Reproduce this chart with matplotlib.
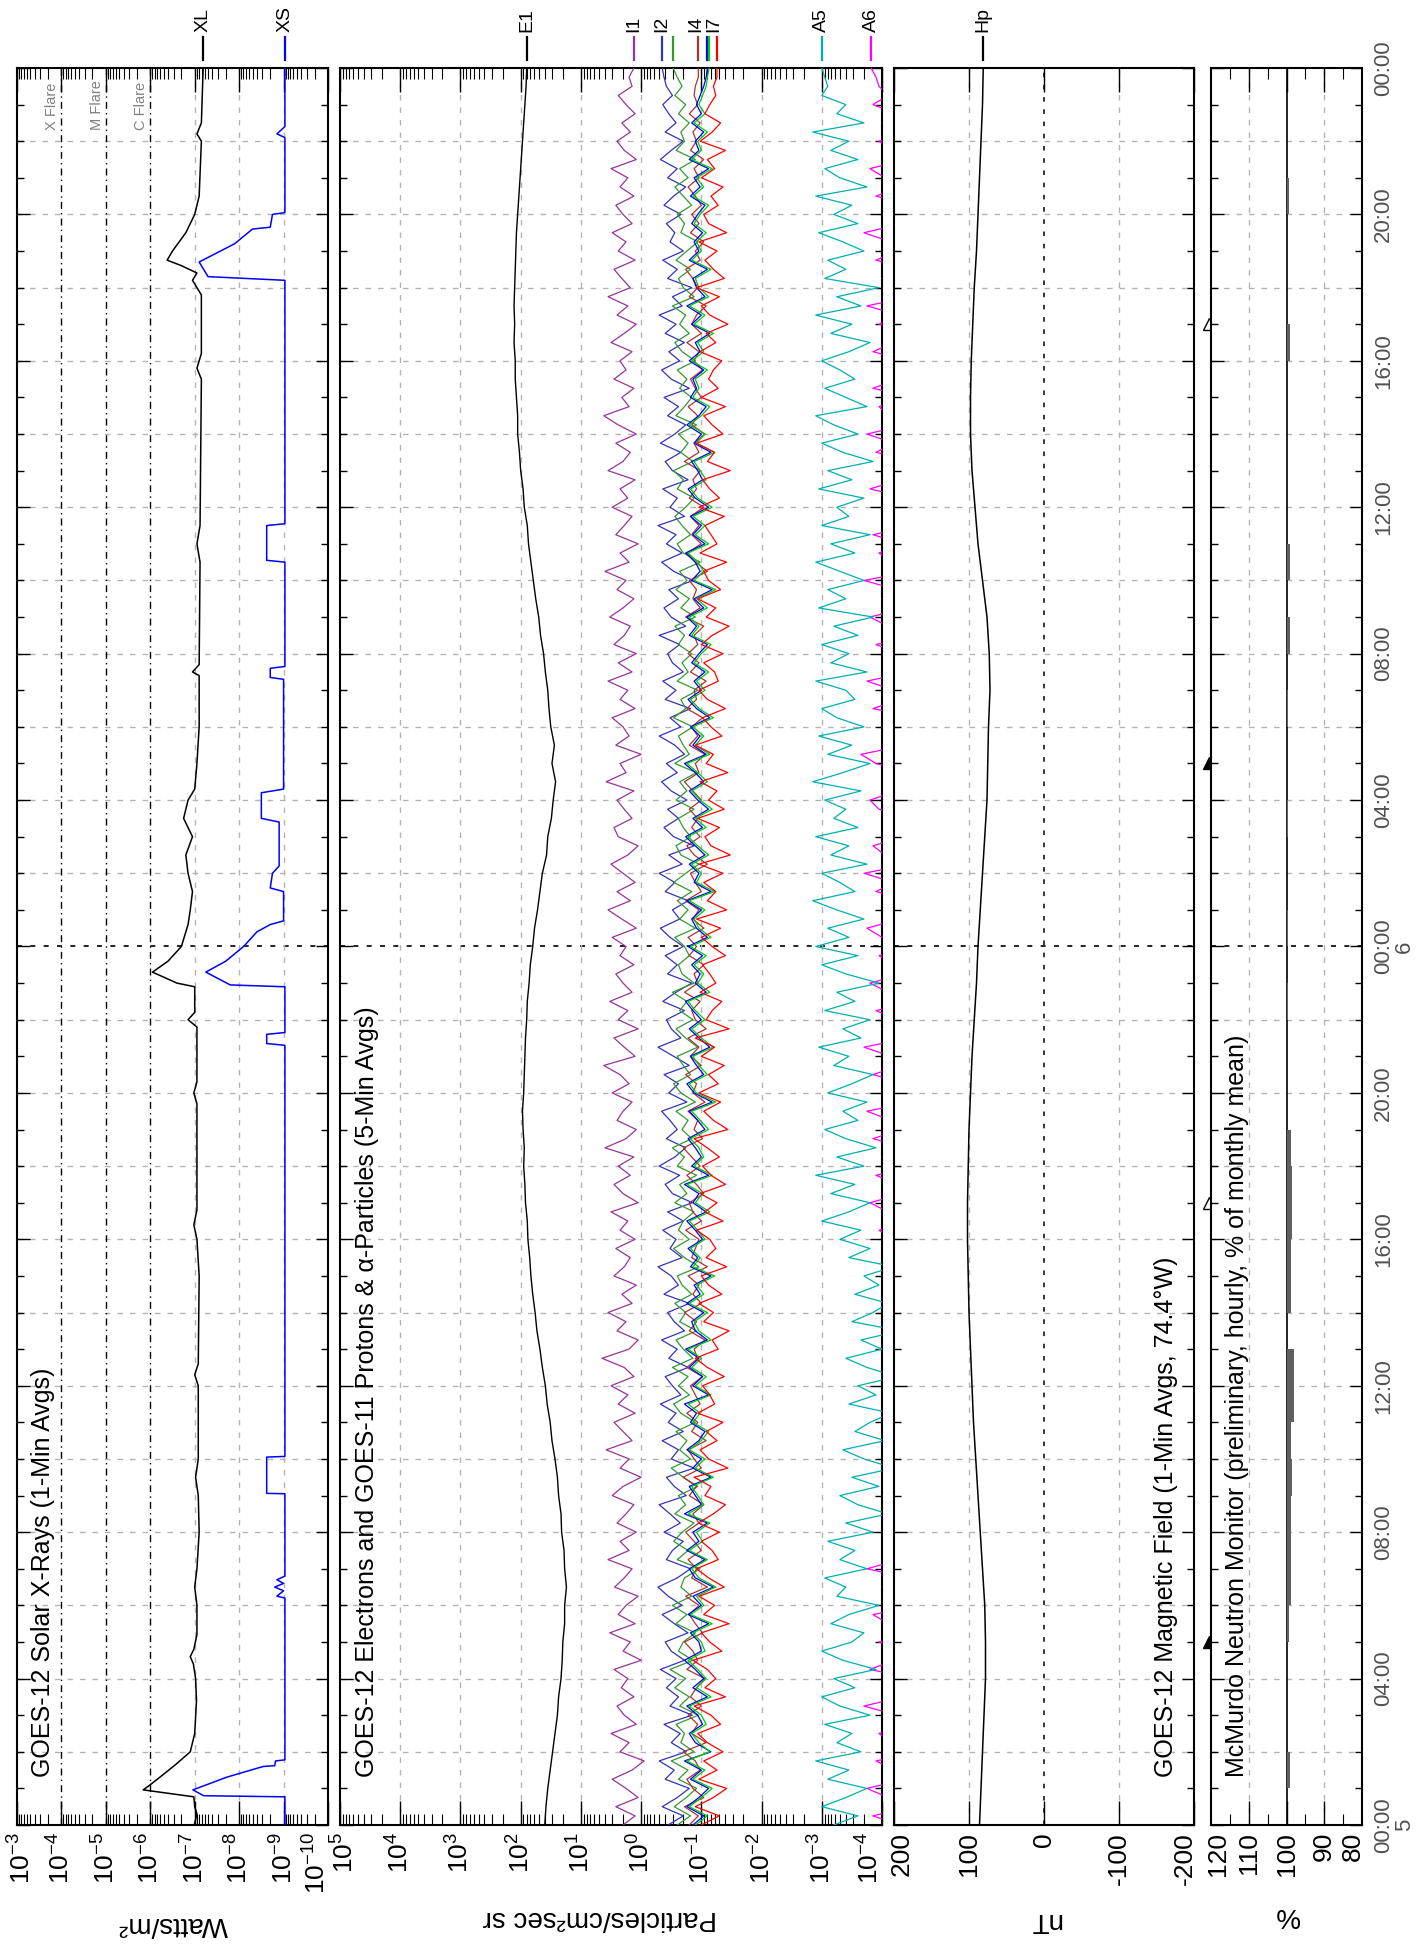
import numpy as np
import matplotlib
matplotlib.use("Agg")
import matplotlib.pyplot as plt
import matplotlib.transforms as mtransforms

plt.rcParams['font.family'] = ['Liberation Sans', 'DejaVu Sans']
plt.rcParams['mathtext.fontset'] = 'custom'
plt.rcParams['mathtext.rm'] = 'Liberation Sans'
plt.rcParams['mathtext.it'] = 'Liberation Sans:italic'
plt.rcParams['mathtext.bf'] = 'Liberation Sans:bold'
plt.rcParams['mathtext.default'] = 'regular'

# ---------------- data (hours since day 5 00:00 UT, log10 values) ----------------
xl_hours = [0, 0.3, 0.5, 0.77, 0.85, 0.96, 1.1, 1.31, 1.64, 2.0, 2.5, 3.4, 4.0, 4.4, 4.6, 4.8,
            5.2, 6.0, 6.5, 7.0, 8.0, 9.0, 9.5, 10.0, 12.0, 12.3, 12.6, 15.0, 16.0, 16.4, 16.8,
            19.7, 20.0, 20.3, 21.8, 22.0, 22.2, 22.9, 23.0, 23.3, 23.6, 24.0, 24.6, 25.0, 25.5,
            26.0, 26.5, 27.0, 27.5, 28.0, 28.3, 29.0, 30.0, 31.4, 31.5, 31.7, 34.5, 35.0, 35.5,
            39.5, 39.8, 40.2, 41.8, 42.2, 42.4, 42.6, 42.75, 43.0, 43.5, 44.0, 44.5, 46.0, 46.2,
            46.5, 48.0]
xl_log = [-6.99, -7.05, -7.0, -6.98, -6.5, -5.84, -6.0, -6.22, -6.56, -6.9, -7.0, -7.04, -7.02,
          -6.97, -6.9, -6.98, -7.05, -7.05, -7.0, -7.05, -7.1, -7.08, -7.02, -7.08, -7.08, -7.0,
          -7.08, -7.1, -7.05, -6.98, -7.05, -7.05, -6.98, -7.05, -7.05, -6.85, -7.0, -7.0, -6.6,
          -6.05, -6.4, -6.7, -6.85, -6.9, -6.95, -6.85, -6.8, -6.95, -6.75, -6.85, -7.0, -7.05,
          -7.1, -7.1, -6.95, -7.1, -7.12, -7.05, -7.12, -7.15, -7.05, -7.15, -7.15, -6.95, -7.05,
          -6.7, -6.38, -6.5, -6.8, -7.0, -7.1, -7.15, -7.05, -7.15, -7.19]

xs_hours = [0, 0.77, 0.8, 0.96, 1.31, 1.56, 1.6, 1.62, 1.75, 1.78, 6.2, 6.25, 6.4, 6.5, 6.6,
            6.7, 6.8, 9.05, 9.06, 10.05, 10.07, 21.3, 21.35, 21.6, 21.65, 22.9, 22.95, 23.3,
            23.6, 24.0, 24.4, 24.6, 24.7, 25.5, 25.6, 26.0, 26.2, 27.4, 27.5, 28.2, 28.3,
            31.3, 31.35, 31.6, 31.65, 34.5, 34.55, 35.5, 35.55, 42.2, 42.3, 42.7, 43.2, 43.6,
            43.65, 44.0, 44.05, 46.1, 46.2, 46.4, 48.0]
xs_log = [-9.03, -9.03, -7.2, -6.96, -7.73, -8.43, -8.55, -8.8, -8.82, -9.03, -9.03, -8.85,
          -9.0, -8.8, -9.0, -8.85, -9.03, -9.03, -8.62, -8.62, -9.03, -9.03, -8.62, -8.62,
          -9.03, -9.03, -7.8, -7.25, -7.7, -8.1, -8.4, -8.7, -9.0, -9.0, -8.7, -8.75, -8.9,
          -8.9, -8.5, -8.5, -9.0, -9.0, -8.7, -8.7, -9.03, -9.03, -8.62, -8.62, -9.03, -9.03,
          -7.3, -7.1, -7.9, -8.3, -8.7, -8.75, -9.03, -9.03, -8.85, -9.03, -9.03]

# 30-minute electron values (log10), 00:00 day 5 .. 00:00 day 7
e1_log = [1.60, 1.58, 1.55, 1.51, 1.47, 1.43, 1.39, 1.37, 1.33, 1.31,
          1.30, 1.27, 1.27, 1.24, 1.27, 1.28, 1.32, 1.33, 1.37, 1.39,
          1.43, 1.48, 1.51, 1.56, 1.59, 1.64, 1.68, 1.73, 1.76, 1.80,
          1.83, 1.85, 1.88, 1.89, 1.92, 1.93, 1.95, 1.94, 1.96, 1.97,
          1.95, 1.94, 1.93, 1.92, 1.90, 1.89, 1.86, 1.84, 1.80, 1.77,
          1.72, 1.68, 1.64, 1.57, 1.55, 1.49, 1.46, 1.42, 1.48, 1.44,
          1.50, 1.53, 1.55, 1.59, 1.62, 1.67, 1.70, 1.75, 1.79, 1.83,
          1.87, 1.89, 1.94, 1.96, 2.00, 2.02, 2.05, 2.05, 2.07, 2.09,
          2.09, 2.11, 2.10, 2.11, 2.10, 2.09, 2.08, 2.07, 2.05, 2.03,
          2.01, 1.99, 1.97, 1.95, 1.93, 1.91, 1.90]

# 15-minute proton / alpha values in hundredths of a decade (log10 * 100)
i1_cdec = [30, 10, 42, 5, 25, 48, 15, -5, 35, 20, 50, 8, 28, 40, 12, 33,
           22, 45, 0, 30, 18, 52, 10, 38, 25, 5, 44, 28, 15, 55, 20, 35,
           8, 40, 25, 12, 48, 30, 0, 35, 20, 58, 15, 30, 45, 10, 38, 22,
           50, 12, 28, 65, 20, 5, 40, 25, 55, 15, 32, 8, 45, 28, 18, 42,
           10, 35, 22, 50, 5, 30, 45, 18, 38, 12, 60, 25, 8, 40, 30, 15,
           48, 20, 35, 62, 10, 28, 45, 5, 38, 22, 52, 15, 30, 42, 12, 35,
           25, 48, 8, 32, 55, 18, 40, 10, 30, 50, 22, 5, 38, 45, 15, 28,
           40, 12, 58, 25, 35, 0, 42, 20, 30, 48, 10, 35, 22, 55, 15, 38,
           8, 45, 28, 18, 52, 30, 12, 40, 25, 60, 20, 35, 5, 42, 28, 15,
           48, 22, 35, 10, 55, 30, 18, 42, 8, 38, 62, 20, 32, 12, 45, 25,
           35, 15, 50, 28, 8, 40, 22, 55, 18, 32, 45, 10, 38, 25, 48, 15,
           30, 42, 12, 35, 22, 50, 8, 28, 40, 18, 32, 10, 25, 38, 15, 20,
           12]
i2_cdec = [-45, -70, -35, -60, -80, -40, -55, -30, -75, -50, -65, -38, -85, -48, -62, -42,
           -58, -32, -72, -50, -40, -78, -55, -35, -68, -45, -28, -60, -82, -42, -52, -70,
           -38, -65, -48, -30, -75, -55, -42, -88, -50, -62, -35, -70, -45, -58, -32, -66,
           -52, -40, -78, -46, -60, -34, -72, -55, -44, -80, -38, -62, -50, -28, -68, -48,
           -58, -36, -70, -44, -85, -52, -40, -64, -30, -56, -74, -42, -60, -48, -34, -76,
           -46, -62, -38, -80, -54, -28, -66, -50, -42, -72, -36, -58, -84, -44, -60, -40,
           -70, -48, -32, -64, -52, -78, -40, -56, -30, -68, -46, -88, -54, -38, -62, -44,
           -76, -50, -34, -60, -42, -72, -56, -30, -66, -48, -82, -40, -58, -36, -70, -52,
           -44, -64, -30, -74, -50, -38, -62, -46, -86, -54, -34, -68, -42, -58, -28, -72,
           -48, -60, -36, -78, -52, -40, -66, -32, -56, -74, -44, -62, -38, -80, -50, -34,
           -64, -46, -72, -40, -58, -30, -68, -52, -84, -44, -60, -36, -70, -48, -56, -42,
           -66, -38, -54, -74, -44, -60, -32, -50, -70, -40, -58, -46, -36, -52, -42, -38,
           -35]
i3_cdec = [-60, -82, -55, -75, -92, -62, -78, -50, -88, -66, -72, -58, -95, -64, -80, -56,
           -74, -48, -86, -62, -70, -90, -58, -76, -52, -84, -66, -72, -98, -60, -78, -54,
           -68, -88, -56, -74, -62, -94, -70, -50, -82, -64, -76, -58, -90, -66, -54, -80,
           -62, -78, -52, -86, -70, -58, -92, -64, -74, -56, -84, -68, -60, -96, -72, -54,
           -80, -62, -70, -88, -56, -76, -64, -92, -60, -72, -52, -84, -68, -78, -58, -90,
           -66, -54, -82, -70, -60, -94, -74, -58, -86, -64, -76, -52, -88, -68, -62, -80,
           -72, -56, -90, -64, -78, -60, -84, -54, -74, -96, -66, -58, -82, -70, -62, -88,
           -58, -76, -64, -92, -56, -80, -70, -62, -86, -54, -74, -66, -94, -60, -78, -68,
           -84, -62, -72, -56, -90, -66, -80, -58, -76, -64, -98, -70, -60, -82, -68, -56,
           -74, -88, -60, -70, -54, -86, -66, -78, -62, -92, -58, -72, -84, -64, -76, -60,
           -90, -68, -56, -80, -64, -74, -52, -88, -70, -62, -82, -58, -76, -94, -66, -72,
           -60, -84, -70, -56, -78, -64, -90, -58, -72, -66, -80, -62, -74, -56, -68, -60,
           -53]
i4_cdec = [-80, -95, -72, -104, -86, -76, -98, -90, -70, -108, -84, -94, -78, -100, -82, -92,
           -106, -76, -94, -86, -72, -102, -90, -80, -96, -74, -110, -84, -92, -78, -100, -88,
           -74, -96, -86, -104, -80, -92, -70, -100, -88, -78, -108, -84, -94, -76, -98, -90,
           -82, -102, -76, -94, -88, -106, -80, -92, -72, -100, -86, -96, -78, -110, -84, -90,
           -96, -74, -100, -86, -80, -104, -92, -76, -98, -84, -70, -102, -88, -94, -78, -106,
           -86, -92, -74, -100, -82, -96, -78, -108, -90, -84, -98, -72, -94, -88, -104, -80,
           -92, -78, -104, -86, -96, -74, -100, -90, -82, -110, -88, -76, -98, -84, -94, -80,
           -100, -86, -72, -96, -90, -106, -80, -94, -84, -102, -76, -92, -88, -108, -82, -96,
           -78, -94, -88, -104, -74, -98, -86, -92, -80, -110, -90, -76, -100, -84, -96, -82,
           -104, -80, -92, -86, -98, -72, -96, -88, -106, -84, -94, -78, -100, -90, -82, -102,
           -88, -96, -76, -100, -84, -92, -108, -80, -94, -86, -74, -98, -90, -104, -82, -96,
           -84, -100, -90, -78, -96, -88, -104, -82, -92, -86, -98, -80, -94, -88, -90, -95,
           -95]
i5_cdec = [-86, -104, -76, -96, -112, -82, -100, -72, -116, -90, -80, -102, -94, -76, -110, -86,
           -104, -90, -72, -100, -96, -82, -112, -78, -100, -86, -120, -90, -80, -106, -76, -96,
           -86, -110, -72, -100, -90, -80, -116, -86, -100, -76, -96, -106, -82, -92, -72, -112,
           -86, -102, -80, -96, -74, -110, -90, -84, -104, -76, -98, -88, -116, -82, -94, -78,
           -102, -90, -76, -108, -86, -96, -72, -112, -84, -100, -90, -78, -106, -94, -80, -118,
           -88, -76, -104, -92, -82, -114, -96, -80, -100, -86, -74, -108, -90, -98, -84, -102,
           -78, -110, -92, -84, -100, -76, -116, -88, -96, -80, -106, -90, -74, -102, -86, -112,
           -94, -80, -104, -90, -72, -108, -86, -98, -82, -114, -92, -78, -100, -88, -106, -84,
           -96, -110, -80, -92, -76, -104, -88, -118, -84, -98, -90, -74, -106, -86, -100, -82,
           -112, -90, -78, -102, -94, -84, -116, -88, -100, -76, -96, -108, -82, -92, -86, -104,
           -80, -98, -90, -114, -84, -100, -76, -106, -92, -86, -110, -80, -96, -88, -102, -84,
           -94, -106, -82, -98, -88, -112, -80, -96, -90, -104, -84, -100, -92, -98, -104, -108,
           -110]
i6_cdec = [-90, -110, -80, -100, -118, -86, -106, -76, -114, -96, -84, -108, -100, -80, -116, -92,
           -108, -94, -78, -106, -100, -86, -118, -82, -104, -92, -124, -96, -84, -110, -80, -102,
           -92, -114, -78, -104, -94, -84, -120, -90, -106, -80, -100, -112, -86, -98, -78, -116,
           -90, -108, -84, -100, -78, -116, -96, -88, -110, -80, -104, -92, -122, -86, -98, -82,
           -106, -94, -80, -114, -90, -102, -76, -118, -88, -104, -96, -82, -112, -98, -84, -124,
           -92, -80, -110, -96, -86, -120, -100, -84, -106, -90, -78, -114, -94, -104, -88, -108,
           -82, -116, -96, -88, -106, -80, -122, -92, -100, -84, -112, -94, -78, -108, -90, -118,
           -98, -84, -110, -94, -76, -114, -90, -104, -86, -120, -96, -82, -106, -92, -112, -88,
           -100, -116, -84, -96, -80, -110, -92, -124, -88, -104, -94, -78, -112, -90, -106, -86,
           -118, -94, -82, -108, -98, -88, -122, -92, -106, -80, -100, -114, -86, -96, -90, -110,
           -84, -104, -94, -120, -88, -106, -80, -112, -96, -90, -116, -84, -100, -92, -108, -88,
           -98, -112, -86, -104, -92, -118, -84, -100, -94, -110, -88, -106, -96, -102, -108, -110,
           -113]
i7_cdec = [-100, -130, -90, -120, -142, -96, -126, -104, -136, -110, -94, -132, -116, -88, -140, -106,
           -124, -110, -86, -134, -114, -100, -146, -104, -122, -96, -138, -112, -92, -128, -118, -100,
           -130, -95, -120, -140, -106, -116, -88, -144, -112, -98, -126, -108, -136, -94, -122, -114,
           -102, -138, -110, -90, -128, -118, -146, -104, -120, -96, -134, -112, -100, -142, -108, -124,
           -114, -92, -136, -106, -126, -98, -140, -116, -102, -130, -110, -88, -144, -120, -104, -132,
           -96, -128, -112, -138, -100, -122, -90, -146, -108, -118, -134, -98, -124, -114, -102, -140,
           -118, -100, -132, -92, -142, -110, -124, -104, -136, -96, -148, -116, -106, -130, -94, -138,
           -112, -126, -98, -144, -108, -120, -90, -134, -116, -102, -140, -110, -96, -128, -122, -104,
           -136, -100, -118, -146, -108, -124, -94, -132, -112, -104, -142, -98, -126, -116, -106, -138,
           -96, -130, -114, -102, -148, -110, -122, -92, -136, -118, -104, -140, -100, -128, -112, -120,
           -134, -98, -124, -108, -144, -114, -100, -130, -92, -138, -120, -106, -126, -96, -142, -112,
           -104, -128, -116, -136, -100, -122, -110, -140, -98, -118, -132, -106, -114, -124, -120, -126,
           -126]
a5_cdec = [-320, -360, -300, -340, -375, -310, -345, -290, -365, -325, -350, -305, -380, -330, -300, -355,
           -320, -390, -335, -300, -350, -370, -315, -345, -395, -325, -340, -305, -375, -330, -355, -310,
           -385, -340, -410, -360, -330, -395, -350, -420, -370, -335, -405, -355, -380, -415, -345, -390,
           -360, -425, -375, -340, -400, -365, -430, -350, -385, -410, -355, -395, -370, -420, -345, -380,
           -330, -365, -300, -345, -380, -315, -355, -290, -370, -325, -390, -340, -305, -360, -335, -375,
           -310, -350, -385, -320, -345, -295, -365, -335, -380, -305, -355, -325, -395, -340, -300, -360,
           -290, -345, -310, -370, -325, -285, -355, -330, -300, -375, -315, -345, -290, -360, -320, -340,
           -305, -365, -285, -335, -380, -310, -350, -295, -370, -325, -300, -355, -340, -290, -375, -315,
           -345, -300, -360, -320, -385, -295, -340, -310, -370, -330, -290, -355, -315, -380, -300, -345,
           -325, -370, -295, -350, -310, -385, -335, -300, -360, -320, -290, -375, -340, -305, -355, -330,
           -300, -345, -380, -315, -350, -290, -365, -325, -395, -305, -340, -310, -370, -335, -295, -360,
           -320, -350, -290, -375, -330, -305, -360, -315, -345, -285, -370, -325, -340, -300, -310, -305,
           -300]
a6_cdec = [-430, -385, -450, -410, -375, -440, -420, -390, -460, -415, -395, -445, -425, -370, -435, -405,
           -450, -380, -420, -440, -395, -455, -410, -385, -465, -425, -400, -445, -375, -430, -415, -460,
           -440, -470, -420, -455, -435, -480, -445, -425, -465, -450, -430, -475, -440, -460, -420, -450,
           -455, -430, -470, -445, -480, -420, -460, -440, -475, -435, -465, -450, -425, -470, -445, -460,
           -420, -395, -445, -410, -380, -435, -425, -390, -455, -400, -440, -385, -430, -415, -375, -450,
           -405, -440, -385, -430, -415, -370, -445, -400, -425, -390, -460, -410, -380, -435, -420, -395,
           -440, -400, -375, -430, -415, -455, -390, -420, -370, -445, -405, -385, -435, -410, -460, -395,
           -380, -425, -410, -450, -390, -365, -440, -415, -400, -455, -385, -430, -420, -375, -445, -405,
           -430, -390, -460, -410, -380, -440, -400, -425, -370, -450, -415, -395, -435, -385, -455, -420,
           -400, -445, -380, -430, -415, -465, -390, -420, -375, -440, -410, -395, -450, -385, -425, -405,
           -440, -385, -420, -460, -395, -430, -375, -445, -410, -400, -455, -390, -425, -415, -370, -435,
           -410, -450, -390, -430, -405, -380, -440, -420, -395, -460, -400, -425, -385, -410, -395, -390,
           -382]

# hourly Hp (nT)
hp_nt = [86, 84, 82, 80, 78, 78, 79, 82, 85, 88, 91, 94, 96, 98, 100, 101, 102, 102, 101,
         100, 98, 96, 93, 90, 88, 85, 82, 79, 76, 75, 74, 72, 73, 76, 82, 88, 92, 96, 98,
         98, 97, 95, 93, 90, 88, 86, 84, 82, 81]

# hourly neutron monitor (% of monthly mean), hour h covers h..h+1
neutron_pct = [100, 99.0, 100, 100, 100, 99.4, 98.9, 98.9, 98.9, 98.5, 98.7, 98.0, 98.0, 100,
               98.8, 98.8, 98.5, 98.5, 98.8, 100, 100, 100, 99.5, 100, 99.5, 100, 100, 99.5,
               100, 100, 99.5, 100, 99.0, 100, 99.0, 100, 100, 100, 100, 100, 99.0, 100, 100,
               100, 99.4, 100, 100, 100]

time_labels = ["00:00\n5", "04:00", "08:00", "12:00", "16:00", "20:00", "00:00\n6",
               "04:00", "08:00", "12:00", "16:00", "20:00", "00:00"]
noon_marks = [5, 17, 29, 41]
noon_filled = [True, False, True, False]

# ---------------- layout ----------------
W, H = 1416, 1944
TOP, BOT = 68, 1825
AX_H = BOT - TOP

fig = plt.figure(figsize=(W / 100, H / 100), dpi=100)


def box(x0, x1):
    return [x0 / W, 1 - BOT / H, (x1 - x0) / W, AX_H / H]


ax_x = fig.add_axes(box(17, 328))
ax_p = fig.add_axes(box(340, 882))
ax_m = fig.add_axes(box(894, 1194))
ax_n = fig.add_axes(box(1211, 1362))
axes = [ax_x, ax_p, ax_m, ax_n]

GRAY = '#b4b4b4'
DASH = (0, (4, 5))

for ax in axes:
    ax.set_ylim(0, 48)
    ax.set_yticks(np.arange(0, 49, 4))
    ax.set_yticks(np.arange(0, 49, 1), minor=True)
    ax.tick_params(axis='y', which='both', direction='in', left=True, right=True,
                   labelleft=False, labelright=False)
    ax.tick_params(axis='y', which='major', length=9, width=1)
    ax.tick_params(axis='y', which='minor', length=5, width=1)
    ax.tick_params(axis='x', which='both', direction='in', top=True, bottom=True,
                   labelbottom=False, labeltop=False)
    ax.tick_params(axis='x', which='major', length=17, width=1)
    ax.tick_params(axis='x', which='minor', length=8, width=0.8)
    for s in ax.spines.values():
        s.set_linewidth(1.5)
    for h in range(2, 48, 2):
        if h == 24:
            ax.axhline(h, color='black', ls=(0, (3, 5)), lw=1.2, zorder=1)
        else:
            ax.axhline(h, color=GRAY, ls=DASH, lw=1, zorder=1)


def log_axis(ax, hi, lo):
    ax.set_xscale('log')
    ax.set_xlim(10.0 ** hi, 10.0 ** lo)
    ax.xaxis.set_major_locator(matplotlib.ticker.LogLocator(base=10, numticks=30))
    ax.xaxis.set_minor_locator(matplotlib.ticker.LogLocator(base=10, subs=np.arange(2, 10),
                                                            numticks=300))
    ax.xaxis.set_minor_formatter(matplotlib.ticker.NullFormatter())


def value_labels(ax, vals, labels, shifts):
    trans = mtransforms.blended_transform_factory(ax.transData, ax.transAxes)
    for v, lab, s in zip(vals, labels, shifts):
        t = trans + mtransforms.ScaledTranslation(s / 100, 0, fig.dpi_scale_trans)
        ax.text(v, -0.004, lab, transform=t, rotation=90, ha='center', va='top',
                fontsize=19, clip_on=False)


def tag(ax, xval, color, text=None, text_x=None):
    trans = mtransforms.blended_transform_factory(ax.transData, ax.transAxes)
    ax.plot([xval, xval], [1 + (TOP - 60) / AX_H, 1 + (TOP - 37) / AX_H], color=color,
            lw=1.6, transform=trans, clip_on=False)
    if text:
        tx = xval if text_x is None else text_x
        ax.text(tx, 1 + (TOP - 32) / AX_H, text, rotation=90, ha='center', va='bottom',
                fontsize=14, transform=trans, clip_on=False)


def panel_title(ax, xfrac, text):
    trans = mtransforms.blended_transform_factory(ax.transAxes, ax.transData)
    ax.text(xfrac, 1.3, text, rotation=90, ha='center', va='bottom', fontsize=18,
            transform=trans)


# ---------------- X-ray panel ----------------
log_axis(ax_x, -3, -10)
for d in [-4, -5, -6]:
    ax_x.axvline(10.0 ** d, color='black', ls=(0, (5, 3, 1, 3)), lw=1, zorder=1)
for d in [-7, -8, -9]:
    ax_x.axvline(10.0 ** d, color=GRAY, ls=DASH, lw=1, zorder=1)
ax_x.plot(10.0 ** np.array(xl_log), xl_hours, color='black', lw=1.1, zorder=3)
ax_x.plot(10.0 ** np.array(xs_log), xs_hours, color='#0000ff', lw=1.1, zorder=3)
for d, name in [(-4, 'X Flare'), (-5, 'M Flare'), (-6, 'C Flare')]:
    ax_x.text(10.0 ** d * 1.12, 46.3, name, rotation=90, ha='right', va='bottom',
              fontsize=10.5, color='#808080')
value_labels(ax_x, [10.0 ** d for d in range(-3, -11, -1)],
             [r'$10^{%d}$' % d for d in range(-3, -11, -1)],
             [5, 0, 0, 0, 0, 0, 0, -11])
panel_title(ax_x, 0.084, 'GOES-12 Solar X-Rays (1-Min Avgs)')
tag(ax_x, 10.0 ** xl_log[-1], 'black', 'XL')
tag(ax_x, 10.0 ** xs_log[-1], '#0000ff', 'XS')

# ---------------- particle panel ----------------
log_axis(ax_p, 5, -4)
for d in range(4, -4, -1):
    ax_p.axvline(10.0 ** d, color=GRAY, ls=DASH, lw=1, zorder=1)
series = [(a6_cdec, '#ff00ff'), (a5_cdec, '#00b0b0'), (i1_cdec, '#993399'),
          (i2_cdec, '#3333bb'), (i3_cdec, '#339933'), (i4_cdec, '#aa3333'),
          (i5_cdec, '#0000ff'), (i6_cdec, '#00cc00'), (i7_cdec, '#ff0000')]
for vals, col in series:
    ax_p.plot(10.0 ** (np.array(vals) / 100.0), np.linspace(0, 48, len(vals)), color=col,
              lw=0.9, zorder=3)
ax_p.plot(10.0 ** np.array(e1_log), np.linspace(0, 48, len(e1_log)), color='black', lw=1.0,
          zorder=4)
value_labels(ax_p, [10.0 ** d for d in range(5, -5, -1)],
             [r'$10^{%d}$' % d for d in range(5, -5, -1)],
             [5, 0, 0, 0, 0, 0, 0, 0, 0, -12])
panel_title(ax_p, 0.05, 'GOES-12 Electrons and GOES-11 Protons & α-Particles (5-Min Avgs)')
tag(ax_p, 10.0 ** e1_log[-1], 'black', 'E1')
tag(ax_p, 10.0 ** (i1_cdec[-1] / 100), '#993399', 'I1')
tag(ax_p, 10.0 ** (i2_cdec[-1] / 100), '#3333bb', 'I2')
tag(ax_p, 10.0 ** (i3_cdec[-1] / 100), '#339933')
tag(ax_p, 10.0 ** (i4_cdec[-1] / 100), '#aa3333', 'I4', text_x=10.0 ** (i4_cdec[-1] / 100 + 0.05))
tag(ax_p, 10.0 ** (i5_cdec[-1] / 100), '#0000ff')
tag(ax_p, 10.0 ** (i6_cdec[-1] / 100), '#00cc00')
tag(ax_p, 10.0 ** (i7_cdec[-1] / 100), '#ff0000', 'I7', text_x=10.0 ** (i7_cdec[-1] / 100 + 0.05))
tag(ax_p, 10.0 ** (a5_cdec[-1] / 100), '#00b0b0', 'A5')
tag(ax_p, 10.0 ** (a6_cdec[-1] / 100), '#ff00ff', 'A6')

# ---------------- magnetic field panel ----------------
ax_m.set_xlim(200, -200)
ax_m.set_xticks([200, 100, 0, -100, -200])
ax_m.axvline(100, color=GRAY, ls=DASH, lw=1, zorder=1)
ax_m.axvline(-100, color=GRAY, ls=DASH, lw=1, zorder=1)
ax_m.axvline(0, color='black', ls=(0, (3, 5)), lw=1.1, zorder=1)
ax_m.plot(hp_nt, np.arange(len(hp_nt)), color='black', lw=1.1, zorder=3)
value_labels(ax_m, [200, 100, 0, -100, -200], ['200', '100', '0', '-100', '-200'],
             [8, 0, 0, 0, -9])
panel_title(ax_m, 0.907, 'GOES-12 Magnetic Field (1-Min Avgs, 74.4°W)')
tag(ax_m, hp_nt[-1], 'black', 'Hp')
mtrans = mtransforms.blended_transform_factory(ax_m.transAxes, ax_m.transData)
for h, filled in zip(noon_marks, noon_filled):
    ax_m.plot([1.05], [h], marker='^', ms=8, mec='black', mew=1,
              mfc='black' if filled else 'white', transform=mtrans, clip_on=False)

# ---------------- neutron monitor panel ----------------
ax_n.set_xlim(120, 80)
ax_n.set_xticks([110, 100, 90])
ax_n.set_xticks([115, 105, 95, 85], minor=True)
ax_n.axvline(110, color=GRAY, ls=DASH, lw=1, zorder=1)
ax_n.axvline(90, color=GRAY, ls=DASH, lw=1, zorder=1)
ax_n.axvline(100, color='black', lw=1.2, zorder=2)
ax_n.barh(np.arange(len(neutron_pct)), np.array(neutron_pct) - 100, left=100, height=1,
          align='edge', color='#606060', zorder=3)
value_labels(ax_n, [120, 110, 100, 90, 80], ['120', '110', '100', '90', '80'],
             [7, 0, 0, 0, -9])
panel_title(ax_n, 0.17, 'McMurdo Neutron Monitor (preliminary, hourly, % of monthly mean)')

ntrans = mtransforms.blended_transform_factory(ax_n.transAxes, ax_n.transData)
for h, lab in zip(range(0, 49, 4), time_labels):
    ax_n.text(1.0 + 11 / 151, h, lab, transform=ntrans, rotation=90, ha='left', va='center',
              fontsize=16, color='#505050', multialignment='center', linespacing=1.0,
              clip_on=False)

# ---------------- axis titles (upside down) ----------------
fig.text(173 / W, 1 - 1924 / H, 'Watts/m²', rotation=180, ha='center', va='center',
         fontsize=20)
fig.text(600 / W, 1 - 1918 / H, 'Particles/cm²sec sr', rotation=180, ha='center',
         va='center', fontsize=20)
fig.text(1045 / W, 1 - 1920 / H, 'nT', rotation=180, ha='center', va='center', fontsize=20)
fig.text(1287 / W, 1 - 1915 / H, '%', rotation=180, ha='center', va='center', fontsize=20)

fig.savefig('out.png', dpi=100)
